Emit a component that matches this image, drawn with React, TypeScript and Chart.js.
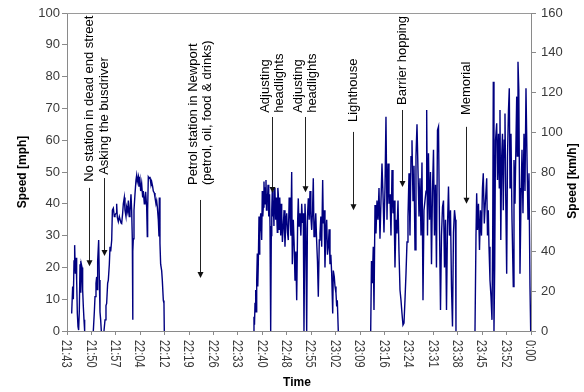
import { useEffect, useRef } from 'react';
import { Chart, registerables } from 'chart.js';

Chart.register(...registerables);

const FONT = '"Liberation Sans", Arial, sans-serif';

// x-axis category labels (evenly spaced over the trip, 21:43 -> 0:00)
const timeLabels = ['21:43', '21:50', '21:57', '22:04', '22:12', '22:19', '22:26', '22:33', '22:40', '22:48',
  '22:55', '23:02', '23:09', '23:16', '23:24', '23:31', '23:38', '23:45', '23:52', '0:00'];
const totalMinutes = 137; // minutes from 21:43 to 0:00

// [minutes after 21:43, speed in mph]; null = standing still (no line drawn)
const segA: [number, number | null][] = [
  [1.38, 5.5], [1.67, 14], [1.87, 10], [2.07, 22], [2.26, 27], [2.46, 18], [2.66, 23], [2.85, 16], [3.05, 5.5], [3.25, 1.4],
  [3.44, 0.3], [3.64, 6.6], [3.84, 21], [4.03, 22], [4.13, 12], [4.23, 21], [4.43, 20], [4.62, 13], [4.82, 7.7], [5.02, 3.5],
  [5.21, 0], [6.5, null], [7.77, 0], [8.07, 6], [8.27, 10.8], [8.56, 15], [8.76, 17], [8.95, 13], [9.05, 22], [9.35, 28.6], [9.55, 16],
  [9.74, 6], [9.94, 3.5], [10.13, 0], [10.5, null], [10.92, 0], [11.22, 3.5], [11.51, 8], [11.71, 8.7], [12.0, 15], [12.2, 16], [12.5, 21],
  [12.7, 26.5], [12.9, 25], [13.2, 28.6], [13.4, 38], [13.68, 38.6], [13.97, 36], [14.17, 36.5], [14.47, 37], [14.66, 40],
  [14.86, 35.7], [15.15, 34.4], [15.45, 36], [15.64, 36], [15.94, 34], [16.14, 33.8], [16.43, 37], [16.63, 40], [16.92, 42],
  [17.12, 38], [17.42, 36], [17.61, 39], [17.91, 37.5], [18.11, 41], [18.4, 36], [18.6, 37.5], [18.89, 43], [19.09, 38],
  [19.29, 28.6], [19.38, 3.5], [19.48, 25], [19.58, 29], [19.78, 38], [20.07, 43], [20.37, 47.5], [20.57, 49], [20.76, 47],
  [21.06, 48.5], [21.25, 45.4], [21.55, 47.5], [21.75, 44], [22.04, 46.4], [22.34, 42], [22.53, 44], [22.83, 40], [23.02, 41],
  [23.22, 43.8], [23.52, 39], [23.71, 29.7], [23.81, 38], [24.01, 48.5], [24.3, 48], [24.5, 48.5], [24.8, 46], [24.99, 47],
  [25.29, 45.4], [25.48, 44], [25.78, 43.4], [25.98, 42], [26.27, 40], [26.47, 41], [26.67, 39], [26.96, 35], [27.16, 29.7],
  [27.26, 42], [27.45, 27.5], [27.65, 21], [27.95, 19], [28.14, 16], [28.44, 9.6], [28.63, 8.7], [28.73, 0],
];

const segB: [number, number | null][] = [
  [55.0, 0], [55.21, 4.5], [55.36, 2], [55.51, 8.7], [55.71, 12.9], [55.86, 6], [56.01, 16], [56.19, 24.4], [56.33, 14],
  [56.48, 21], [56.69, 36], [56.84, 24], [56.98, 30.6], [57.19, 37], [57.33, 33], [57.48, 28.6], [57.66, 44], [57.81, 36],
  [57.96, 39], [58.16, 47], [58.31, 40], [58.46, 42], [58.6, 45], [58.75, 47.5], [58.9, 38], [59.05, 43], [59.2, 41],
  [59.35, 46], [59.5, 36], [59.64, 40], [59.8, 43], [59.94, 33], [60.14, 0], [60.32, 30], [60.46, 38], [60.61, 44],
  [60.76, 36], [60.91, 41], [61.1, 33], [61.25, 45], [61.41, 44], [61.6, 35], [61.75, 42], [61.91, 37], [62.1, 31],
  [62.25, 45], [62.39, 43], [62.6, 32], [62.75, 39], [62.89, 42], [63.1, 30], [63.25, 40], [63.39, 37], [63.6, 28],
  [63.86, 33], [64.1, 38], [64.36, 26.5], [64.6, 34], [64.87, 37], [65.1, 31], [65.34, 28.6], [65.6, 42], [65.84, 37],
  [66.1, 30], [66.34, 50], [66.52, 21], [66.82, 35], [67.05, 28], [67.32, 16], [67.55, 25], [67.82, 9.7], [68.11, 35],
  [68.29, 41.7], [68.5, 33], [68.79, 37], [69.05, 30], [69.3, 40], [69.55, 34], [69.77, 37], [69.97, 0], [70.27, 40],
  [70.5, 32], [70.77, 0], [71.0, 36], [71.25, 41.7], [71.5, 35], [71.75, 44], [72.0, 36], [72.25, 31.8], [72.5, 38],
  [72.72, 48], [72.93, 29.7], [73.22, 33], [73.45, 37], [73.72, 28], [73.95, 22], [74.2, 10.8], [74.49, 28.6], [74.7, 30.6],
  [74.95, 36], [75.2, 26.5], [75.49, 47.5], [75.67, 33.8], [75.9, 38], [76.17, 20], [76.4, 30], [76.68, 35], [76.9, 24],
  [77.15, 26.5], [77.4, 32], [77.65, 21], [77.9, 24], [78.15, 18], [78.45, 5.5], [78.63, 19], [78.92, 17], [79.13, 14],
  [79.42, 11.9], [79.63, 7.7], [79.81, 9.7], [80.1, 0],
];

const segC: [number, number | null][] = [
  [89.67, 0], [89.9, 22], [90.14, 15], [90.43, 26.5], [90.64, 6.6], [90.94, 39.6], [91.23, 30.7], [91.53, 41], [91.82, 35],
  [92.12, 45], [92.41, 29], [92.71, 41], [93.0, 52.7], [93.3, 43], [93.59, 31], [93.89, 45], [94.18, 67.4], [94.48, 35],
  [94.78, 52.7], [95.07, 40], [95.37, 43], [95.66, 30], [95.96, 50.6], [96.25, 37], [96.55, 41], [96.84, 20], [97.14, 35],
  [97.43, 30.7], [97.73, 41], [98.02, 25], [98.32, 12.9], [98.61, 9.7], [98.91, 5.5], [99.2, 1.9], [99.5, 2.5], [99.79, 9.7],
  [100.09, 18], [100.39, 28], [100.68, 36], [100.98, 49.6], [101.27, 30], [101.57, 54.8], [101.86, 60], [102.16, 41],
  [102.45, 52], [102.75, 25.5], [103.04, 55], [103.34, 65], [103.63, 50.6], [103.93, 36], [104.22, 48], [104.52, 30],
  [104.81, 53], [105.11, 9.7], [105.4, 38], [105.7, 41], [106.0, 44], [106.2, 69.5], [106.44, 30], [106.73, 55.9],
  [107.03, 35], [107.32, 50], [107.62, 21], [107.91, 44], [108.21, 57], [108.5, 30], [108.8, 46], [109.09, 20], [109.39, 63.2],
  [109.69, 64.3], [109.98, 33], [110.28, 6.6], [110.57, 30], [110.87, 39], [111.16, 41], [111.46, 20], [111.75, 35],
  [112.05, 6.6], [112.34, 33], [112.64, 45.4], [112.93, 30], [113.23, 38], [113.52, 14], [113.82, 1.4], [114.11, 31],
  [114.41, 38], [114.7, 35], [114.85, 0],
];

const segD: [number, number | null][] = [
  [120.46, 0], [120.76, 30], [120.96, 43.3], [121.2, 31.8], [121.49, 40], [121.79, 25.5], [122.08, 38], [122.38, 30],
  [122.67, 45], [122.91, 49.6], [123.21, 33.8], [123.5, 40], [123.92, 48], [124.15, 30], [124.39, 38], [124.6, 26.5],
  [124.89, 16], [125.19, 10.8], [125.48, 3.5], [125.69, 30], [125.87, 78.4], [126.07, 0], [126.28, 20], [126.52, 60],
  [126.87, 65.3], [127.11, 47.5], [127.4, 62], [127.64, 45], [127.84, 69.5], [128.08, 28.6], [128.35, 55], [128.58, 62],
  [128.82, 38], [129.08, 60], [129.32, 68.4], [129.56, 40], [129.82, 18], [130.06, 55], [130.35, 69.5], [130.59, 76.3],
  [130.8, 45], [131.09, 62], [131.39, 35], [131.77, 14], [131.98, 53.8], [132.27, 40], [132.57, 60], [132.78, 73.7],
  [132.95, 55], [133.16, 84.7], [133.4, 75.8], [133.6, 45], [133.75, 18], [134.04, 40], [134.34, 57], [134.63, 37],
  [134.93, 62], [135.22, 44], [135.52, 76.3], [135.81, 55], [136.11, 35], [136.4, 49.6], [136.7, 14], [136.91, 0],
];

// annotations: text lines, time (min after 21:43), arrow tip / arrow start / text start (mph)
const annoLabels: string[][] = [
  ['No station in dead end street'],
  ['Asking the busdriver'],
  ['Petrol station in Newport', '(petrol, oil, food & drinks)'],
  ['Adjusting', 'headlights'],
  ['Adjusting', 'headlights'],
  ['Lighthouse'],
  ['Barrier hopping'],
  ['Memorial'],
];
const annoTimes = [6.5, 10.9, 39.3, 60.6, 70.2, 84.4, 99.0, 117.7];
const annoTipMph = [20.4, 23.6, 16.7, 43.4, 43.6, 38.0, 45.3, 40.0];
const annoLineTopMph = [45.0, 48.1, 41.2, 67.3, 67.3, 62.6, 69.5, 64.2];
const annoTextBaseMph = [46.9, 49.1, 45.9, 68.6, 68.6, 65.7, 71.1, 67.9];

export default function App() {
  const ref = useRef<HTMLCanvasElement>(null);

  useEffect(() => {
    const canvas = ref.current;
    if (!canvas) return;

    const points: { x: number; y: number | null }[] = [];
    [segA, segB, segC, segD].forEach((seg, i) => {
      if (i > 0) points.push({ x: seg[0][0] - 0.01, y: null });
      seg.forEach(([x, y]) => points.push({ x, y }));
    });

    const overlay = {
      id: 'overlay',
      afterDraw(chart: any) {
        const { ctx, chartArea: ca, scales } = chart;
        const xs = scales.x;
        const ys = scales.y;
        ctx.save();

        // plot area top border
        ctx.strokeStyle = '#9a9a9a';
        ctx.lineWidth = 1;
        ctx.beginPath();
        ctx.moveTo(ca.left, Math.round(ca.top) + 0.5);
        ctx.lineTo(ca.right, Math.round(ca.top) + 0.5);
        ctx.stroke();

        // x tick labels, rotated clockwise
        ctx.fillStyle = '#3a3a3a';
        ctx.font = `11px ${FONT}`;
        ctx.textAlign = 'left';
        ctx.textBaseline = 'middle';
        xs.ticks.forEach((t: any, i: number) => {
          const px = xs.getPixelForValue(t.value);
          ctx.save();
          ctx.translate(px - 1, ca.bottom + 9);
          ctx.scale(1.25, 1);
          ctx.rotate(Math.PI / 2);
          ctx.fillText(timeLabels[i] ?? '', 0, 0);
          ctx.restore();
        });

        // axis titles
        ctx.fillStyle = '#000';
        ctx.font = `bold 12px ${FONT}`;
        ctx.textAlign = 'center';
        ctx.textBaseline = 'middle';
        ctx.fillText('Time', (ca.left + ca.right) / 2 - 2, 383);
        ctx.save();
        ctx.translate(23, (ca.top + ca.bottom) / 2);
        ctx.rotate(-Math.PI / 2);
        ctx.fillText('Speed [mph]', 0, 0);
        ctx.restore();
        ctx.save();
        ctx.translate(573, (ca.top + ca.bottom) / 2 + 9);
        ctx.rotate(-Math.PI / 2);
        ctx.fillText('Speed [km/h]', 0, 0);
        ctx.restore();

        // annotations
        ctx.font = `13px ${FONT}`;
        ctx.strokeStyle = '#222';
        ctx.fillStyle = '#000';
        annoLabels.forEach((lines, i) => {
          const lx = Math.round(xs.getPixelForValue(annoTimes[i])) + 0.5;
          const yTop = ys.getPixelForValue(annoLineTopMph[i]);
          const yTip = ys.getPixelForValue(annoTipMph[i]);
          const yText = ys.getPixelForValue(annoTextBaseMph[i]);
          ctx.beginPath();
          ctx.moveTo(lx, yTop);
          ctx.lineTo(lx, yTip - 5);
          ctx.stroke();
          ctx.beginPath();
          ctx.moveTo(lx - 3, yTip - 6);
          ctx.lineTo(lx + 3, yTip - 6);
          ctx.lineTo(lx, yTip);
          ctx.closePath();
          ctx.fillStyle = '#111';
          ctx.fill();
          ctx.fillStyle = '#000';
          const n = lines.length;
          lines.forEach((line, j) => {
            const cx = lx + (j - (n - 1) / 2) * 14;
            ctx.save();
            ctx.translate(cx, yText);
            ctx.rotate(-Math.PI / 2);
            ctx.textAlign = 'left';
            ctx.textBaseline = 'middle';
            ctx.fillText(line, 0, 0);
            ctx.restore();
          });
        });

        ctx.restore();
      },
    };

    const axisGrey = '#8a8a8a';
    const chart = new Chart(canvas, {
      type: 'line',
      data: {
        datasets: [
          {
            label: 'Speed',
            data: points as any,
            borderColor: '#000080',
            backgroundColor: '#000080',
            borderWidth: 1.4,
            pointRadius: 0,
            tension: 0,
            spanGaps: false,
            yAxisID: 'y',
          },
        ],
      },
      options: {
        animation: false,
        responsive: false,
        parsing: true,
        layout: { padding: { top: 13, left: 0, right: 0, bottom: 0 } },
        plugins: { legend: { display: false }, tooltip: { enabled: false }, title: { display: false } },
        scales: {
          x: {
            type: 'linear',
            min: 0,
            max: totalMinutes,
            ticks: { display: false },
            grid: { drawOnChartArea: false, color: axisGrey, tickLength: 4 },
            border: { color: axisGrey },
            afterBuildTicks: (scale: any) => {
              scale.ticks = timeLabels.map((_, i) => ({ value: (i * totalMinutes) / (timeLabels.length - 1) }));
            },
            afterFit: (scale: any) => {
              scale.height = 61;
            },
          },
          y: {
            position: 'left',
            min: 0,
            max: 100,
            ticks: { stepSize: 10, color: '#3a3a3a', font: { family: FONT, size: 13 }, padding: 2 },
            grid: { drawOnChartArea: false, color: axisGrey, tickLength: 5 },
            border: { color: axisGrey },
            afterFit: (scale: any) => {
              scale.width = 67;
            },
          },
          y2: {
            position: 'right',
            min: 0,
            max: 160,
            ticks: { stepSize: 20, color: '#3a3a3a', font: { family: FONT, size: 13 }, padding: 5 },
            grid: { drawOnChartArea: false, color: axisGrey, tickLength: 5 },
            border: { color: axisGrey },
            afterFit: (scale: any) => {
              scale.width = 53;
            },
          },
        },
      },
      plugins: [overlay],
    });

    return () => chart.destroy();
  }, []);

  return (
    <div style={{ position: 'fixed', left: 0, top: 0, width: 584, height: 392, background: '#fff' }}>
      <canvas ref={ref} width={584} height={392} style={{ display: 'block', width: 584, height: 392 }} />
    </div>
  );
}
